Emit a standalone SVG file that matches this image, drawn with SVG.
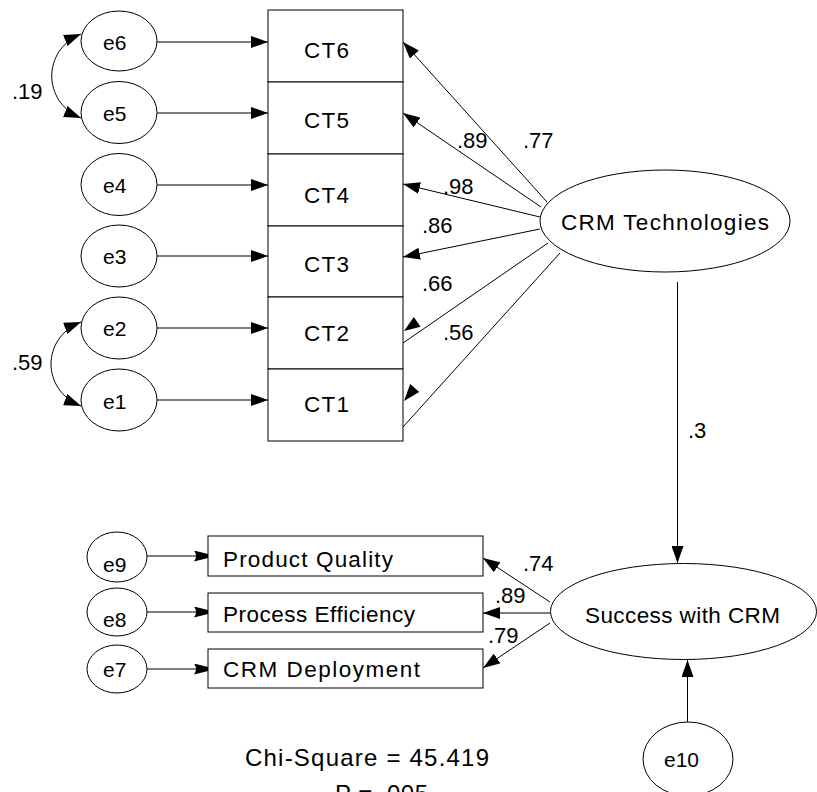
<svg xmlns="http://www.w3.org/2000/svg" width="817" height="792" viewBox="0 0 817 792">
<style>
text{font-family:"Liberation Sans",Arial,sans-serif;fill:#000}
.lbl{font-size:22.5px}
.num{font-size:22px}
.err{font-size:21px}
.shape{fill:#fff;stroke:#000;stroke-width:1}
.ln{fill:none;stroke:#000;stroke-width:1}
.ah{fill:#000}
</style>
<defs>
<marker id="arr" markerUnits="userSpaceOnUse" markerWidth="17" markerHeight="12" refX="17" refY="6" orient="auto-start-reverse" viewBox="0 0 17 12">
<path d="M0,0 L17,6 L0,12 z" fill="#000"/>
</marker>
<marker id="arr2" markerUnits="userSpaceOnUse" markerWidth="22" markerHeight="11" refX="22" refY="5.5" orient="auto" viewBox="0 0 22 11">
<path d="M0,0 L22,5.5 L0,11 Q4,5.5 0,0 z" fill="#000"/>
</marker>
</defs>
<rect width="817" height="792" fill="#fff"/>

<g id="connectors">
<path class="ln" d="M81,34 C42,50 42,102 81,118" marker-start="url(#arr)" marker-end="url(#arr)"/>
<path class="ln" d="M81,322 C41,338 41,390 81,406" marker-start="url(#arr)" marker-end="url(#arr)"/>
<line class="ln" x1="157" y1="42" x2="268" y2="42" marker-end="url(#arr)"/>
<line class="ln" x1="157" y1="113" x2="268" y2="113" marker-end="url(#arr)"/>
<line class="ln" x1="157" y1="185" x2="268" y2="185" marker-end="url(#arr)"/>
<line class="ln" x1="157" y1="256" x2="268" y2="256" marker-end="url(#arr)"/>
<line class="ln" x1="157" y1="328" x2="268" y2="328" marker-end="url(#arr)"/>
<line class="ln" x1="157" y1="400" x2="268" y2="400" marker-end="url(#arr)"/>
<line class="ln" x1="547" y1="202" x2="403" y2="42" marker-end="url(#arr)"/>
<line class="ln" x1="541" y1="207" x2="403" y2="113" marker-end="url(#arr)"/>
<line class="ln" x1="540" y1="217" x2="403" y2="184" marker-end="url(#arr)"/>
<line class="ln" x1="540" y1="229" x2="403" y2="257" marker-end="url(#arr)"/>
<line class="ln" x1="548" y1="243" x2="403" y2="343"/>
<path class="ah" d="M404,331 L420.6,326.8 L413.8,317 z"/>
<line class="ln" x1="560" y1="253" x2="403" y2="427"/>
<path class="ah" d="M404,401 L419.2,392.1 L410.2,384.1 z"/>
<line class="ln" x1="677.5" y1="282" x2="677.5" y2="563" marker-end="url(#arr)"/>
<line class="ln" x1="147" y1="556" x2="216" y2="556" marker-end="url(#arr2)"/>
<line class="ln" x1="147" y1="612" x2="216" y2="612" marker-end="url(#arr2)"/>
<line class="ln" x1="147" y1="669" x2="216" y2="669" marker-end="url(#arr2)"/>
<line class="ln" x1="550" y1="602" x2="483" y2="558" marker-end="url(#arr)"/>
<line class="ln" x1="550" y1="613" x2="483" y2="613" marker-end="url(#arr)"/>
<line class="ln" x1="550" y1="623" x2="483" y2="668" marker-end="url(#arr)"/>
<line class="ln" x1="687.5" y1="722" x2="687.5" y2="660" marker-end="url(#arr)"/>
</g>

<g id="CT6"><rect class="shape" x="268" y="10" width="135" height="72"/><text class="lbl" x="304" y="58" textLength="45">CT6</text></g>
<g id="CT5"><rect class="shape" x="268" y="82" width="135" height="72"/><text class="lbl" x="304" y="128" textLength="45">CT5</text></g>
<g id="CT4"><rect class="shape" x="268" y="154" width="135" height="72"/><text class="lbl" x="304" y="203" textLength="45">CT4</text></g>
<g id="CT3"><rect class="shape" x="268" y="226" width="135" height="71"/><text class="lbl" x="304" y="272" textLength="45">CT3</text></g>
<g id="CT2"><rect class="shape" x="268" y="297" width="135" height="72"/><text class="lbl" x="304" y="341" textLength="45">CT2</text></g>
<g id="CT1"><rect class="shape" x="268" y="369" width="135" height="72"/><text class="lbl" x="304" y="412" textLength="45">CT1</text></g>

<g id="e6"><ellipse class="shape" cx="119" cy="41" rx="38" ry="30"/><text class="err" x="103" y="50">e6</text></g>
<g id="e5"><ellipse class="shape" cx="119" cy="112.5" rx="38" ry="31"/><text class="err" x="103" y="121">e5</text></g>
<g id="e4"><ellipse class="shape" cx="119" cy="184.5" rx="38" ry="31"/><text class="err" x="103" y="193">e4</text></g>
<g id="e3"><ellipse class="shape" cx="119" cy="256" rx="38" ry="31"/><text class="err" x="103" y="264">e3</text></g>
<g id="e2"><ellipse class="shape" cx="119" cy="328" rx="38" ry="31"/><text class="err" x="103" y="336">e2</text></g>
<g id="e1"><ellipse class="shape" cx="119" cy="400" rx="38" ry="31"/><text class="err" x="103" y="409">e1</text></g>

<g id="crm-tech"><ellipse class="shape" cx="665" cy="221" rx="125" ry="51"/><text class="lbl" x="561" y="230" textLength="208">CRM Technologies</text></g>

<g id="success"><ellipse class="shape" cx="683.5" cy="611.5" rx="133" ry="48"/><text class="lbl" x="585" y="623" textLength="195">Success with CRM</text></g>

<g id="pq"><rect class="shape" x="208" y="536" width="275" height="40"/><text class="lbl" x="223" y="567" textLength="170">Product Quality</text></g>
<g id="pe"><rect class="shape" x="208" y="593" width="275" height="39"/><text class="lbl" x="223" y="622" textLength="192">Process Efficiency</text></g>
<g id="cd"><rect class="shape" x="208" y="649" width="275" height="39"/><text class="lbl" x="223" y="677" textLength="197">CRM Deployment</text></g>

<g id="e9"><ellipse class="shape" cx="117" cy="557" rx="30" ry="25"/><text class="err" x="103" y="572">e9</text></g>
<g id="e8"><ellipse class="shape" cx="117" cy="612" rx="30" ry="24"/><text class="err" x="103" y="627">e8</text></g>
<g id="e7"><ellipse class="shape" cx="117" cy="669" rx="30" ry="24"/><text class="err" x="103" y="677">e7</text></g>
<g id="e10"><ellipse class="shape" cx="688" cy="759" rx="45" ry="37"/><text class="err" x="664" y="767">e10</text></g>

<g id="labels">
<text class="num" x="12" y="99">.19</text>
<text class="num" x="12" y="370">.59</text>
<text class="num" x="457" y="148">.89</text>
<text class="num" x="523" y="148">.77</text>
<text class="num" x="443" y="194">.98</text>
<text class="num" x="422" y="233">.86</text>
<text class="num" x="422" y="291">.66</text>
<text class="num" x="443" y="340">.56</text>
<text class="num" x="688" y="438">.3</text>
<text class="num" x="523" y="571">.74</text>
<text class="num" x="495" y="603">.89</text>
<text class="num" x="488" y="643">.79</text>
<text style="font-size:24px" x="245" y="766" textLength="244">Chi-Square = 45.419</text>
<text style="font-size:24px" x="335" y="802" textLength="93">P = .005</text>
</g>
</svg>
